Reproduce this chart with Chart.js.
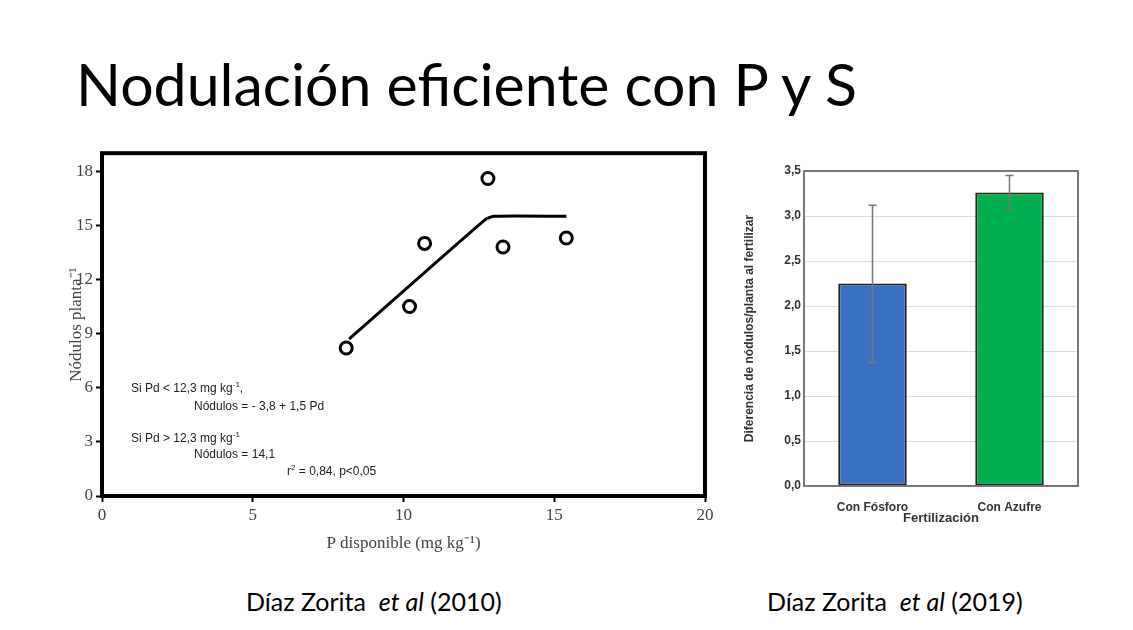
<!DOCTYPE html>
<html>
<head>
<meta charset="utf-8">
<script src="https://cdn.jsdelivr.net/npm/chart.js@4"></script>
<style>
  body { margin: 0; width: 1133px; height: 630px; background: #fff; position: relative; overflow: hidden; font-family: Lato, sans-serif; }
  .title { position: absolute; left: 76px; top: 48px; font-size: 59px; color: #000; white-space: nowrap; }
  .cite { position: absolute; top: 586px; font-size: 25px; white-space: nowrap; }
  #leftBox { position: absolute; left: 0; top: 140px; width: 720px; height: 430px; }
  #rightBox { position: absolute; left: 740px; top: 155px; width: 390px; height: 385px; }
  .note { position: absolute; font-family: "Liberation Sans", Arial, sans-serif; font-size: 12px; color: #222; white-space: nowrap; }
</style>
</head>
<body>
<div class="title">Nodulación eficiente con P y S</div>
<div class="cite" style="left:246px">Díaz Zorita&nbsp; <i>et al</i> (2010)</div>
<div class="cite" style="left:767px">Díaz Zorita&nbsp; <i>et al</i> (2019)</div>

<div id="leftBox"><canvas id="leftChart"></canvas></div>
<div id="rightBox"><canvas id="rightChart"></canvas></div>

<div class="note" style="left:131px;top:380px">Si Pd &lt; 12,3 mg kg<sup style="font-size:8px">-1</sup>,</div>
<div class="note" style="left:194px;top:399px">Nódulos = - 3,8 + 1,5 Pd</div>
<div class="note" style="left:131px;top:430px">Si Pd &gt; 12,3 mg kg<sup style="font-size:8px">-1</sup></div>
<div class="note" style="left:194px;top:447px">Nódulos = 14,1</div>
<div class="note" style="left:287px;top:463px">r<sup style="font-size:8px">2</sup> = 0,84, p&lt;0,05</div>

<script>
// datos del gráfico izquierdo (Díaz Zorita 2010)
const pDisponible = [8.1, 10.2, 10.7, 12.8, 13.3, 15.4];
const nodulos = [8.2, 10.5, 14.0, 17.6, 13.8, 14.3];
const ajusteX = [8.2, 12.7, 13.0, 15.4];
const ajusteY = [8.7, 15.3, 15.5, 15.5];

// datos del gráfico derecho (Díaz Zorita 2019)
const tratamientos = ['Con Fósforo', 'Con Azufre'];
const diferencia = [2.25, 3.26];
const errorBajo = [1.37, 3.08];
const errorAlto = [3.12, 3.45];
const coloresBarra = ['#3a70c2', '#00b050'];

const serif = 'Liberation Serif, Times New Roman, serif';

// marco negro grueso alrededor del área
const marcoNegro = {
  id: 'marcoNegro',
  afterDraw(chart) {
    const a = chart.chartArea, ctx = chart.ctx;
    ctx.save();
    ctx.strokeStyle = '#000';
    ctx.lineWidth = 4;
    ctx.strokeRect(a.left, a.top, a.right - a.left, a.bottom - a.top);
    ctx.restore();
  }
};

new Chart(document.getElementById('leftChart'), {
  type: 'scatter',
  data: {
    datasets: [
      {
        type: 'line',
        data: ajusteX.map((x, i) => ({ x: x, y: ajusteY[i] })),
        borderColor: '#000',
        borderWidth: 3,
        pointRadius: 0,
        tension: 0.2,
        fill: false
      },
      {
        data: pDisponible.map((x, i) => ({ x: x, y: nodulos[i] })),
        backgroundColor: '#fff',
        borderColor: '#000',
        borderWidth: 3,
        pointRadius: 6
      }
    ]
  },
  options: {
    responsive: true,
    maintainAspectRatio: false,
    animation: false,
    layout: { padding: { top: 12, right: 15, left: 62, bottom: 12 } },
    plugins: { legend: { display: false }, tooltip: { enabled: false } },
    scales: {
      x: {
        min: 0, max: 20,
        ticks: { stepSize: 5, color: '#444', font: { family: serif, size: 17 } },
        grid: { drawOnChartArea: false, color: '#000', tickLength: 6, tickWidth: 2 },
        border: { display: false },
        title: { display: true, text: 'P disponible (mg kg⁻¹)', color: '#444', font: { family: serif, size: 17 } },
        afterFit(s) { s.height = 62; }
      },
      y: {
        min: 0, max: 19,
        afterBuildTicks(s) { s.ticks = [0, 3, 6, 9, 12, 15, 18].map(v => ({ value: v })); },
        ticks: { color: '#444', font: { family: serif, size: 17 } },
        grid: { drawOnChartArea: false, color: '#000', tickLength: 6, tickWidth: 2 },
        border: { display: false },
        title: { display: true, text: 'Nódulos planta⁻¹', color: '#444', font: { family: serif, size: 17 } },
        afterFit(s) { s.width = 40; }
      }
    }
  },
  plugins: [marcoNegro]
});

// barras de error
const barrasError = {
  id: 'barrasError',
  afterDatasetsDraw(chart) {
    const ctx = chart.ctx, x = chart.scales.x, y = chart.scales.y;
    ctx.save();
    ctx.strokeStyle = '#777';
    ctx.lineWidth = 1.5;
    tratamientos.forEach((t, i) => {
      const px = x.getPixelForValue(i);
      const y1 = y.getPixelForValue(errorBajo[i]);
      const y2 = y.getPixelForValue(errorAlto[i]);
      ctx.beginPath();
      ctx.moveTo(px, y1); ctx.lineTo(px, y2);
      ctx.moveTo(px - 4, y1); ctx.lineTo(px + 4, y1);
      ctx.moveTo(px - 4, y2); ctx.lineTo(px + 4, y2);
      ctx.stroke();
    });
    // borde del área
    const a = chart.chartArea;
    ctx.strokeStyle = '#777';
    ctx.lineWidth = 2;
    ctx.strokeRect(a.left, a.top, a.right - a.left, a.bottom - a.top);
    ctx.restore();
  }
};

const arial = 'Liberation Sans, Arial, sans-serif';
new Chart(document.getElementById('rightChart'), {
  type: 'bar',
  data: {
    labels: tratamientos,
    datasets: [{
      data: diferencia,
      backgroundColor: coloresBarra,
      borderColor: '#222',
      borderWidth: 2,
      borderSkipped: false,
      barPercentage: 0.5,
      categoryPercentage: 1
    }]
  },
  options: {
    responsive: true,
    maintainAspectRatio: false,
    animation: false,
    layout: { padding: { top: 16, right: 52, bottom: 14 } },
    plugins: { legend: { display: false }, tooltip: { enabled: false } },
    scales: {
      x: {
        ticks: { color: '#333', padding: 6, font: { family: arial, size: 12, weight: 'bold' } },
        grid: { display: false },
        border: { display: false },
        title: { display: true, text: 'Fertilización', color: '#333', padding: 0, font: { family: arial, size: 13, weight: 'bold' } },
        afterFit(s) { s.height = 40; }
      },
      y: {
        min: 0, max: 3.5,
        ticks: { stepSize: 0.5, color: '#333', callback: v => v.toFixed(1).replace('.', ','), font: { family: arial, size: 12, weight: 'bold' } },
        grid: { color: '#ddd', drawTicks: false },
        border: { display: false },
        title: { display: true, text: 'Diferencia de nódulos/planta al fertilizar', color: '#333', padding: 2, font: { family: arial, size: 12, weight: 'bold' } },
        afterFit(s) { s.width = 64; }
      }
    }
  },
  plugins: [barrasError]
});
</script>
</body>
</html>
